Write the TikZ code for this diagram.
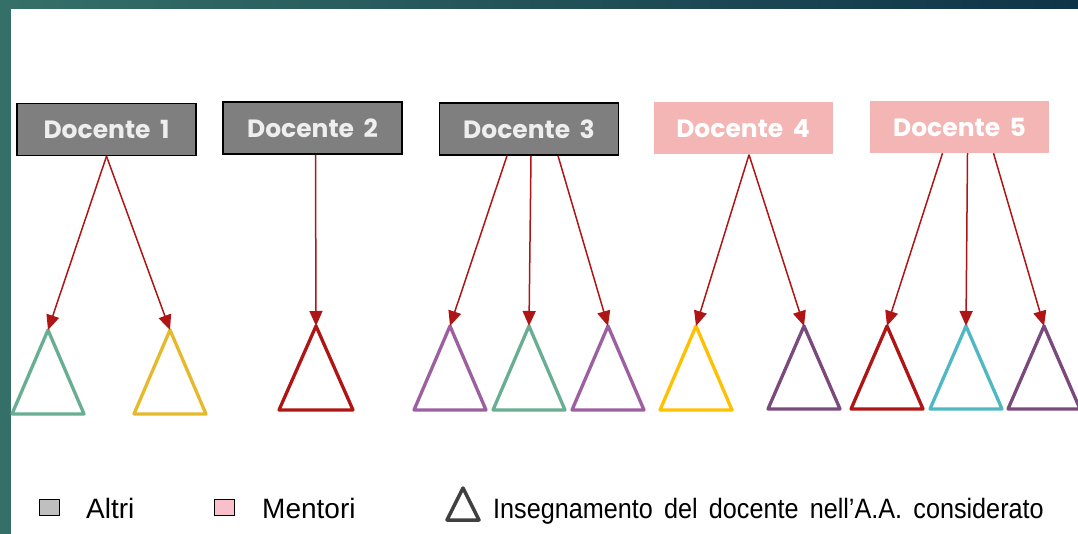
\documentclass[tikz,border=0pt]{standalone}
\usepackage{fontspec}
\setmainfont{Liberation Sans}
\newfontfamily\docfont{Poppins}
\newfontfamily\narrowfont{Liberation Sans}[FakeStretch=0.9, WordSpace=1.6]
\usetikzlibrary{arrows.meta}

\definecolor{bargreen}{HTML}{357068}
\definecolor{barblue}{HTML}{0F3448}
\definecolor{boxgray}{HTML}{7F7F7F}
\definecolor{boxtext}{HTML}{EEEEEE}
\definecolor{boxpink}{HTML}{F4B6B4}
\definecolor{linkred}{HTML}{B01515}
\definecolor{trigreen}{HTML}{68AE92}
\definecolor{triyellow}{HTML}{E6B92C}
\definecolor{trigold}{HTML}{FFC000}
\definecolor{tripurple}{HTML}{9C5F9F}
\definecolor{tridark}{HTML}{7A4A7D}
\definecolor{tricyan}{HTML}{4FB8C2}
\definecolor{keygray}{HTML}{BFBFBF}
\definecolor{keypink}{HTML}{F9C0CC}

\begin{document}
\begin{tikzpicture}[x=1pt, y=-1pt,
    docbox/.style={minimum width=179pt, minimum height=52pt, inner sep=0pt,
      font=\docfont\bfseries\fontsize{25}{28}\selectfont},
    altri/.style={docbox, draw=black, line width=1.5pt, fill=boxgray, text=boxtext},
    mentori/.style={docbox, fill=boxpink, text=white},
    link/.style={draw=linkred, line width=1.5pt, -{Triangle[length=15pt,width=13pt]}},
    tri/.style={line width=3.3pt, line join=round},
    keytext/.style={anchor=west, inner sep=0pt, font=\fontsize{28}{30}\selectfont}]
    \useasboundingbox (0,0) rectangle (1078,534);

    % Frame
    \shade[left color=bargreen, right color=barblue] (0,0) rectangle (1078,9);
    \fill[bargreen] (0,0) rectangle (11,534);

    % Teachers
    \node[altri] (d1) at (106.5,129.5) {Docente\, 1};
    \node[altri] (d2) at (312.5,128) {Docente\, 2};
    \node[altri] (d3) at (529,129) {Docente\, 3};
    \node[mentori] (d4) at (743,128.5) {Docente\, 4};
    \node[mentori] (d5) at (959.5,127) {Docente\, 5};

    % Courses
    \coordinate (t1) at (48,330);
    \coordinate (t2) at (170,330);
    \coordinate (t3) at (316,326);
    \coordinate (t4) at (450,326);
    \coordinate (t5) at (529,326);
    \coordinate (t6) at (608,326);
    \coordinate (t7) at (696,326);
    \coordinate (t8) at (804,326);
    \coordinate (t9) at (887,326);
    \coordinate (t10) at (966,326);
    \coordinate (t11) at (1044,326);
    \draw[tri, trigreen] (t1) -- ++(-36,84) -- ++(72,0) -- cycle;
    \draw[tri, triyellow] (t2) -- ++(-36,84) -- ++(72,0) -- cycle;
    \draw[tri, linkred] (t3) -- ++(-37,84) -- ++(74,0) -- cycle;
    \draw[tri, tripurple] (t4) -- ++(-36,84) -- ++(72,0) -- cycle;
    \draw[tri, trigreen] (t5) -- ++(-36,84) -- ++(72,0) -- cycle;
    \draw[tri, tripurple] (t6) -- ++(-36,84) -- ++(72,0) -- cycle;
    \draw[tri, trigold] (t7) -- ++(-36,84) -- ++(72,0) -- cycle;
    \draw[tri, tridark] (t8) -- ++(-36,83) -- ++(72,0) -- cycle;
    \draw[tri, linkred] (t9) -- ++(-36,83) -- ++(72,0) -- cycle;
    \draw[tri, tricyan] (t10) -- ++(-36,83) -- ++(72,0) -- cycle;
    \draw[tri, tridark] (t11) -- ++(-36,83) -- ++(72,0) -- cycle;

    % Links
    \draw[link] (d1.south) -- (t1);
    \draw[link] (d1.south) -- (t2);
    \draw[link] ([xshift=3pt]d2.south) -- (t3);
    \draw[link] ([xshift=-22pt]d3.south) -- (t4);
    \draw[link] ([xshift=2pt]d3.south) -- (t5);
    \draw[link] ([xshift=29pt]d3.south) -- (t6);
    \draw[link] ([xshift=6pt]d4.south) -- (t7);
    \draw[link] ([xshift=6pt]d4.south) -- (t8);
    \draw[link] ([xshift=-17pt]d5.south) -- (t9);
    \draw[link] ([xshift=8pt]d5.south) -- (t10);
    \draw[link] ([xshift=34pt]d5.south) -- (t11);

    % Legend
    \filldraw[fill=keygray, draw=black, line width=1pt] (39,499) rectangle (59,515);
    \node[keytext] (k1) at (86,508) {Altri};
    \filldraw[fill=keypink, draw=black, line width=1pt] (214,499) rectangle (234,515);
    \node[keytext] (k2) at (262,508) {Mentori};
    \draw[line width=3.5pt, draw=black!75, line join=round] (463,488) -- (447,520) -- (479,520) -- cycle;
    \node[keytext, font=\narrowfont\fontsize{28}{30}\selectfont] (k3) at (493,511) {Insegnamento del docente nell’A.A. considerato};
\end{tikzpicture}
\end{document}
